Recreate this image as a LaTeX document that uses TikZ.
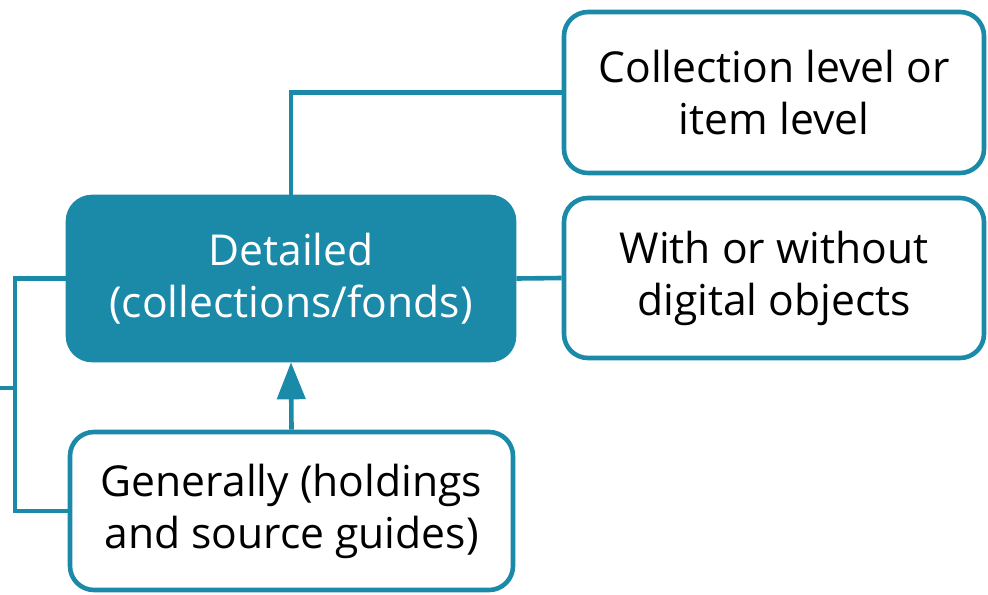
\documentclass[tikz,border=0pt]{standalone}
\usepackage{fontspec}
\setmainfont{Open Sans}
\usetikzlibrary{arrows.meta}
\definecolor{teal}{RGB}{26,138,168}

\tikzset{
  box/.style={rectangle, rounded corners=12pt, draw=teal, line width=2.3pt,
    align=center, inner sep=0pt, font=\fontsize{21.3pt}{26pt}\selectfont},
  mainbox/.style={box, fill=teal, text=white},
  leafbox/.style={box, fill=white, text=black},
  link/.style={draw=teal, line width=2.3pt}
}

\begin{document}
\begin{tikzpicture}[x=0.5pt, y=-0.5pt]
  \useasboundingbox (0,0) rectangle (988,594);
  \node[mainbox, minimum width=223pt, minimum height=81.5pt] (detailed) at (291,278.5)
    {Detailed\\(collections/fonds)};
  \node[leafbox, minimum width=210pt, minimum height=80.5pt] (colllevel) at (774,92.5)
    {Collection level or\\item level};
  \node[leafbox, minimum width=210pt, minimum height=80pt] (digobj) at (774,278)
    {With or without\\digital objects};
  \node[leafbox, minimum width=221.5pt, minimum height=79pt] (general) at (291.5,511)
    {Generally (holdings\\and source guides)};
  \coordinate (src) at (0,388);
  \coordinate (brk) at (15,388);
  \draw[link] (detailed.north) |- (colllevel.west);
  \draw[link] (detailed.east) -- (digobj.west);
  \draw[link, -{Triangle[length=18.5pt, width=14pt]}] (general.north) -- (detailed.south);
  \draw[link] (detailed.west) -| (brk) |- (general.west);
  \draw[link] (src) -- (brk);
\end{tikzpicture}
\end{document}
